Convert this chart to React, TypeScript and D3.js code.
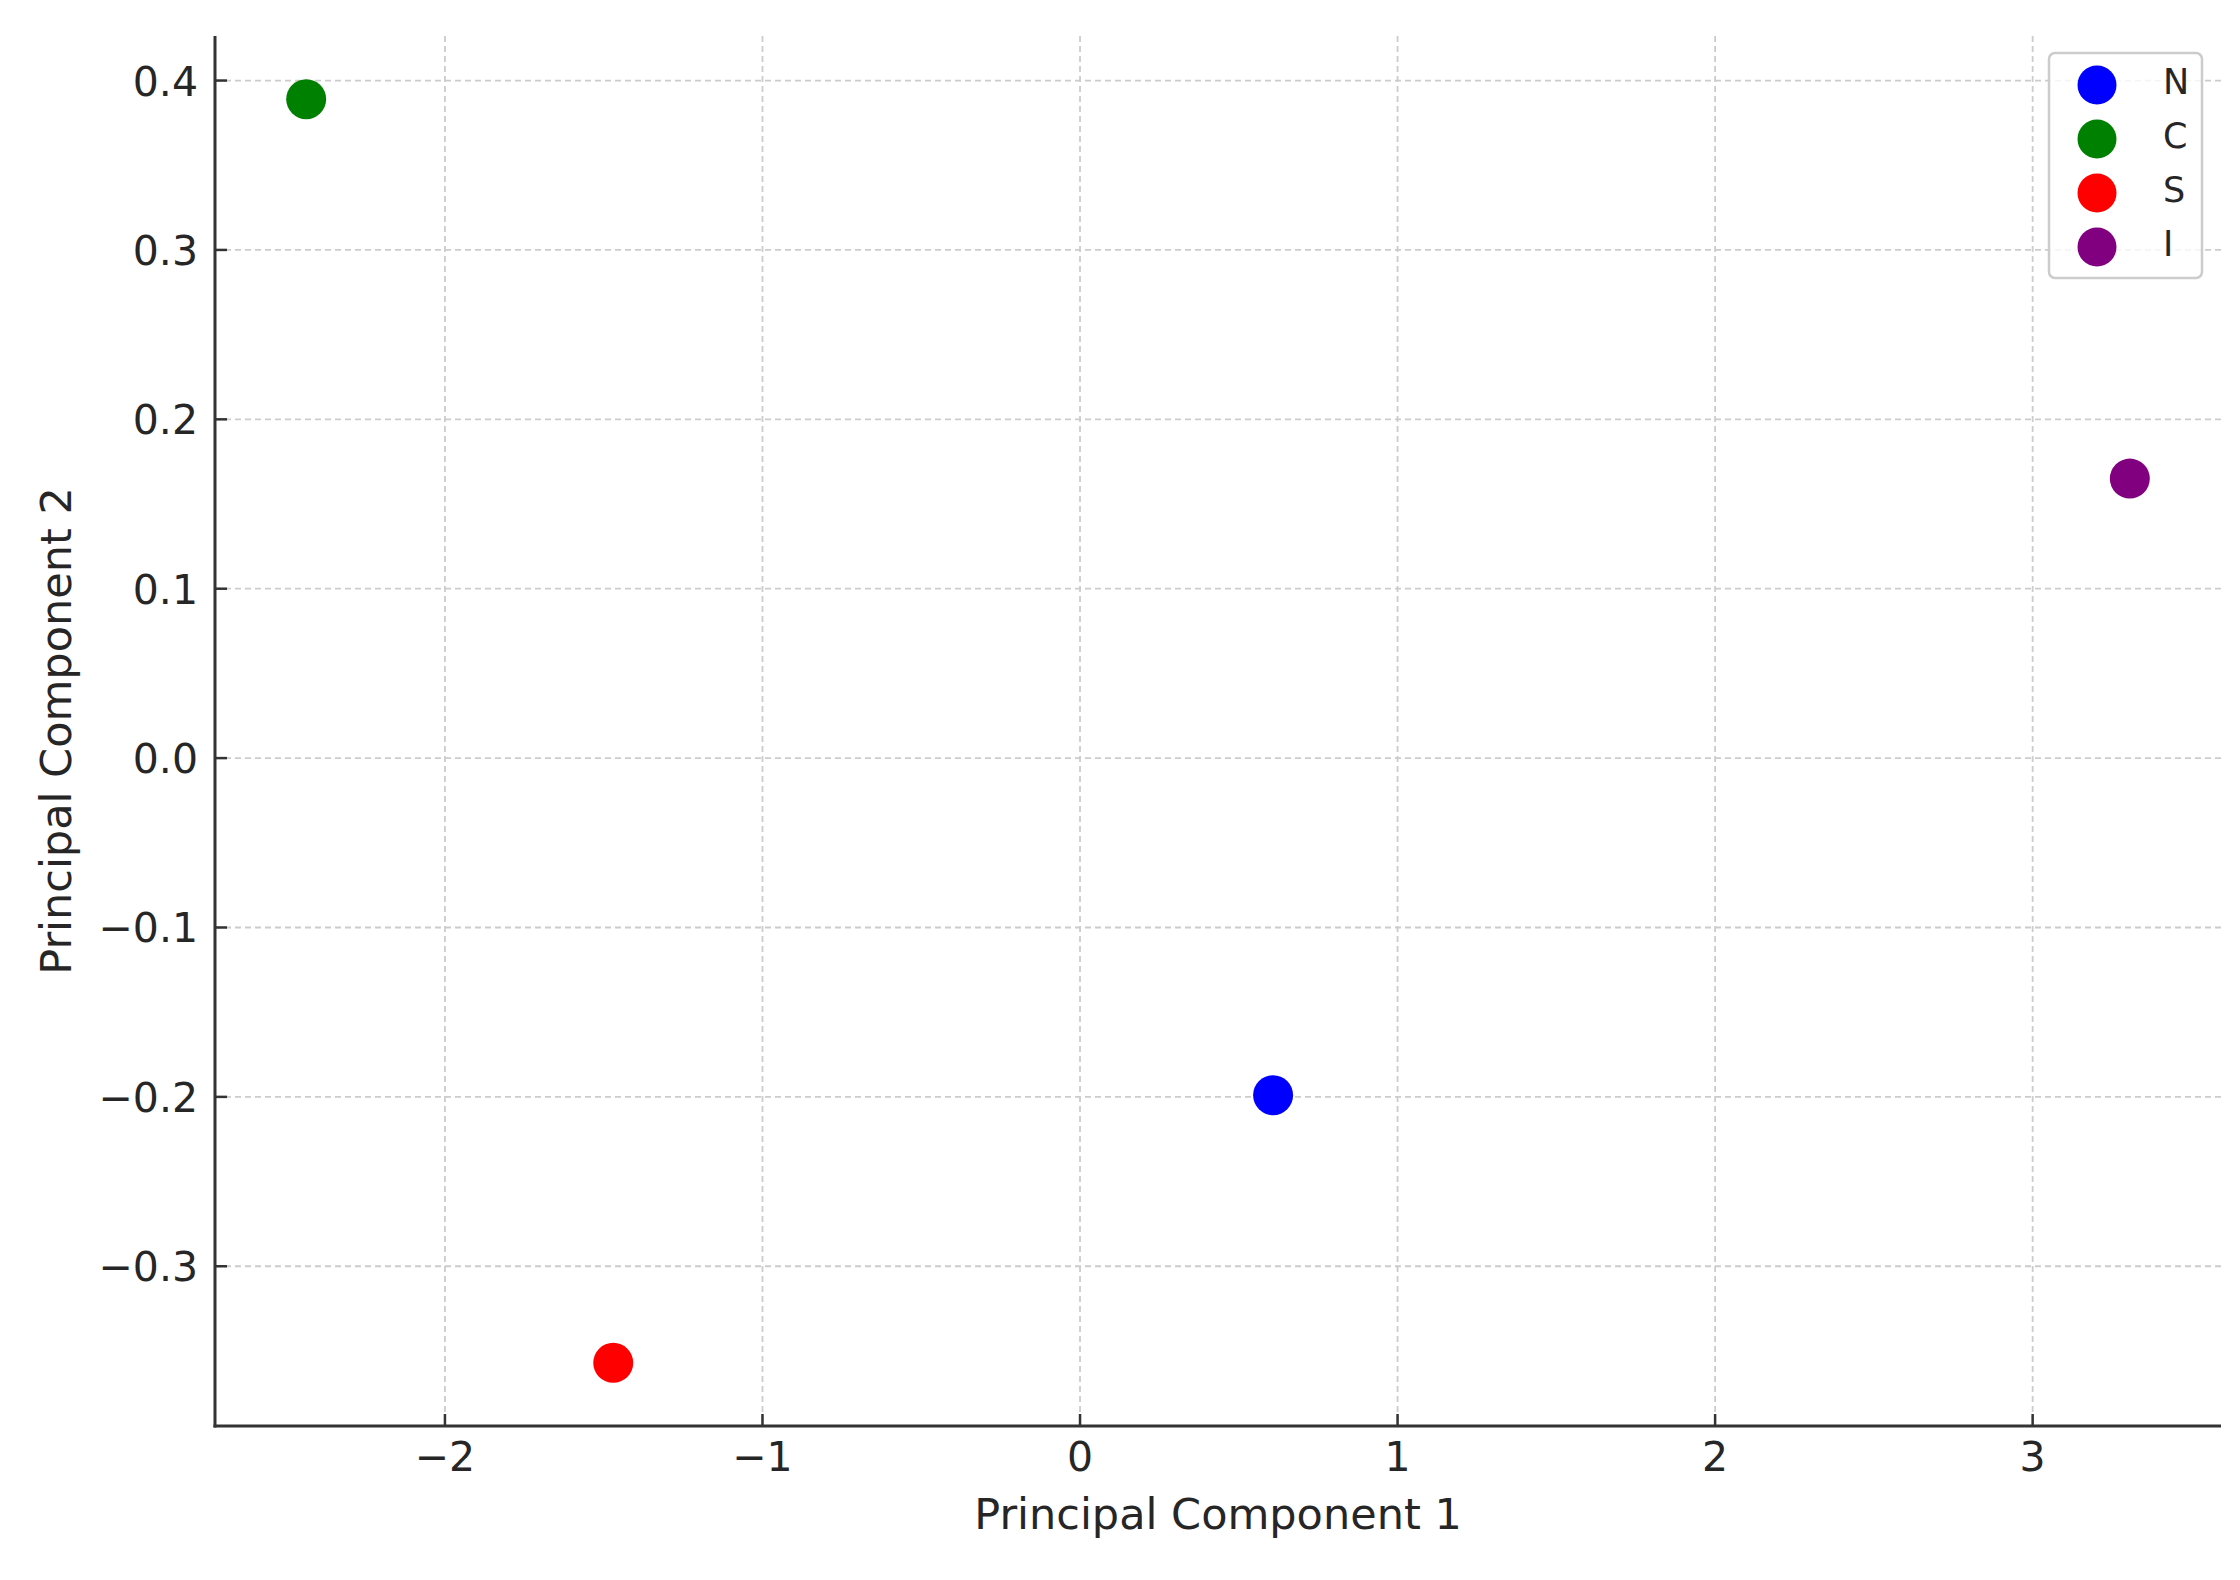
import React from "react";
import * as d3 from "d3";

const categories = ["N", "C", "S", "I"];
const pc1 = [0.608, -2.437, -1.47, 3.306];
const pc2 = [-0.199, 0.389, -0.357, 0.165];
const colors = ["#0000ff", "#008000", "#ff0000", "#800080"];
const xTicks = [-2, -1, 0, 1, 2, 3];
const yTicks = [-0.3, -0.2, -0.1, 0.0, 0.1, 0.2, 0.3, 0.4];

const W = 2240;
const H = 1580;
const L = 215, R = 2221, T = 36, B = 1426;
const FONT = "DejaVu Sans, sans-serif";

function pad([a, b]: [number, number]): [number, number] {
  const m = (b - a) * 0.05;
  return [a - m, b + m];
}

export default function App() {
  const x = d3.scaleLinear().domain(pad(d3.extent(pc1) as [number, number])).range([L, R]);
  const y = d3.scaleLinear().domain(pad(d3.extent(pc2) as [number, number])).range([B, T]);
  const fx = d3.format("d");
  const fy = d3.format(".1f");
  const tickColor = "#333333";
  const textColor = "#262626";
  const legX = 2049, legY = 53, legW = 153, legH = 225;

  return (
    <svg width={W} height={H} style={{ position: "absolute", left: 0, top: 0, background: "#fff" }}>
      <rect x={0} y={0} width={W} height={H} fill="#ffffff" />
      {/* grid */}
      <g stroke="#cccccc" strokeWidth={1.8} strokeDasharray="6,4">
        {xTicks.map((t) => (
          <line key={"gx" + t} x1={x(t)} x2={x(t)} y1={T} y2={B} />
        ))}
        {yTicks.map((t) => (
          <line key={"gy" + t} x1={L} x2={R} y1={y(t)} y2={y(t)} />
        ))}
      </g>
      {/* points */}
      {categories.map((c, i) => (
        <circle key={c} cx={x(pc1[i])} cy={y(pc2[i])} r={20} fill={colors[i]} />
      ))}
      {/* ticks */}
      <g stroke={tickColor} strokeWidth={2.5}>
        {xTicks.map((t) => (
          <line key={"tx" + t} x1={x(t)} x2={x(t)} y1={B} y2={B - 12} />
        ))}
        {yTicks.map((t) => (
          <line key={"ty" + t} x1={L} x2={L + 12} y1={y(t)} y2={y(t)} />
        ))}
      </g>
      {/* spines */}
      <line x1={L} x2={L} y1={T} y2={B + 1.5} stroke={tickColor} strokeWidth={3} />
      <line x1={L - 1.5} x2={R} y1={B} y2={B} stroke={tickColor} strokeWidth={3} />
      {/* tick labels */}
      <g fontFamily={FONT} fontSize={41} fill={textColor}>
        {xTicks.map((t) => (
          <text key={"lx" + t} x={x(t)} y={1471} textAnchor="middle">
            {fx(t)}
          </text>
        ))}
        {yTicks.map((t) => (
          <text key={"ly" + t} x={198} y={y(t) + 15} textAnchor="end">
            {fy(t)}
          </text>
        ))}
      </g>
      {/* axis labels */}
      <text x={(L + R) / 2} y={1529} textAnchor="middle" fontFamily={FONT} fontSize={43} fill={textColor}>
        Principal Component 1
      </text>
      <text
        transform={`translate(71,${(T + B) / 2}) rotate(-90)`}
        textAnchor="middle"
        fontFamily={FONT}
        fontSize={43}
        fill={textColor}
      >
        Principal Component 2
      </text>
      {/* legend */}
      <rect x={legX} y={legY} width={legW} height={legH} rx={6} fill="#ffffff" fillOpacity={0.8} stroke="#cccccc" strokeWidth={2.5} />
      {categories.map((c, i) => (
        <g key={"leg" + c}>
          <circle cx={2097} cy={85 + i * 54} r={19.5} fill={colors[i]} />
          <text x={2163} y={85 + i * 54 + 9} fontFamily={FONT} fontSize={35} fill={textColor}>
            {c}
          </text>
        </g>
      ))}
    </svg>
  );
}
